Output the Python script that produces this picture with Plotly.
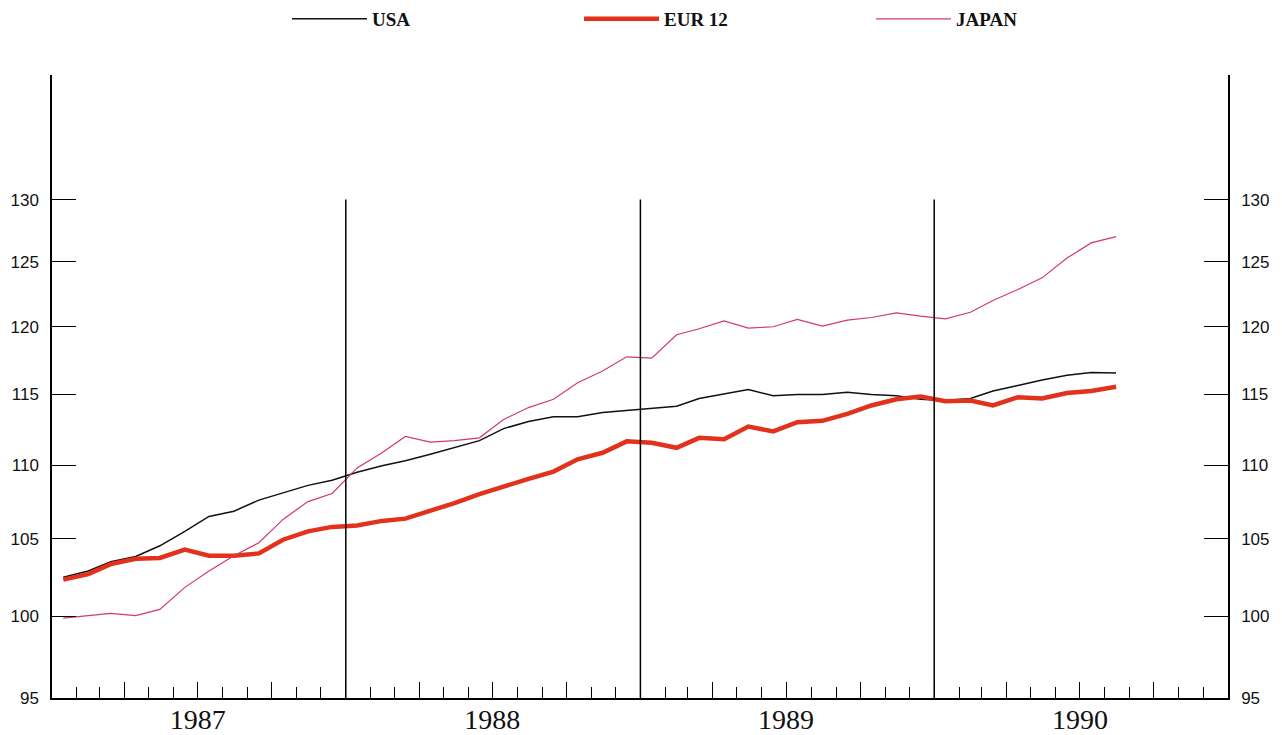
import pandas as pd
import numpy as np
import plotly.graph_objects as go

# Monthly index values, Jan 1987 - Aug 1990 (log scale chart)
months = pd.date_range("1987-01-01", periods=44, freq="MS") + pd.Timedelta(days=14)

usa = [102.5, 102.9, 103.5, 103.85, 104.55, 105.5, 106.5, 106.85, 107.6, 108.1, 108.6, 108.95,
       109.5, 109.95, 110.3, 110.75, 111.2, 111.7, 112.55, 113.05, 113.4, 113.4, 113.7, 113.85,
       114.0, 114.15, 114.7, 115.05, 115.35, 114.9, 115.0, 115.0, 115.15, 115.0, 114.9, 114.65,
       114.55, 114.7, 115.25, 115.65, 116.05, 116.4, 116.6, 116.55]

eur12 = [102.35, 102.7, 103.35, 103.7, 103.75, 104.3, 103.9, 103.9, 104.05, 104.95, 105.5, 105.8,
         105.9, 106.2, 106.35, 106.85, 107.4, 108.0, 108.55, 109.05, 109.55, 110.4, 110.85, 111.65,
         111.55, 111.2, 111.9, 111.8, 112.7, 112.35, 113.0, 113.1, 113.6, 114.2, 114.65, 114.85,
         114.5, 114.55, 114.2, 114.8, 114.7, 115.1, 115.25, 115.55]

japan = [99.9, 100.05, 100.2, 100.05, 100.45, 101.85, 102.9, 103.9, 104.75, 106.3, 107.5, 108.05,
         109.8, 110.85, 112.0, 111.6, 111.7, 111.9, 113.2, 114.05, 114.65, 115.85, 116.7, 117.75,
         117.65, 119.4, 119.85, 120.45, 119.9, 120.0, 120.55, 120.05, 120.5, 120.7, 121.05, 120.8,
         120.6, 121.1, 122.0, 122.85, 123.75, 125.3, 126.5, 127.0]

series_names = ["USA", "EUR 12", "JAPAN"]
series_colors = ["#111111", "#e2321c", "#d2386e"]
series_widths = [1.5, 4.5, 1.2]

y_ticks = [95, 100, 105, 110, 115, 120, 125, 130]
year_labels = ["1987", "1988", "1989", "1990"]
year_mid = ["1987-07-01", "1988-07-01", "1989-07-01", "1990-07-01"]
year_bounds = ["1988-01-01", "1989-01-01", "1990-01-01"]
x_range = ["1987-01-01", "1991-01-01"]
y_top = 140.6

fig = go.Figure()
for name, vals, col, w in zip(series_names, [usa, eur12, japan], series_colors, series_widths):
    fig.add_trace(go.Scatter(x=months, y=vals, mode="lines", name=name,
                             line=dict(color=col, width=w)))

# invisible helper trace so the overlay axes are drawn
fig.add_trace(go.Scatter(x=[x_range[0]], y=[y_ticks[0]], xaxis="x2", yaxis="y2",
                         mode="markers", marker=dict(opacity=0), showlegend=False,
                         hoverinfo="skip"))

# vertical year separators from 95 to 130
for xb in year_bounds:
    fig.add_shape(type="line", xref="x", yref="y", x0=xb, x1=xb,
                  y0=y_ticks[0], y1=y_ticks[-1], line=dict(color="black", width=1.5))

yr = [np.log10(y_ticks[0]), np.log10(y_top)]
tickfont = dict(family="Liberation Sans", size=17, color="#111")

# page body adds an 8px offset; margins compensate for it
ML, MR, MT, MB = 44, 62, 67, 45
PW, PH = 1282 - ML - MR, 735 - MT - MB

fig.update_layout(
    width=1282, height=735,
    margin=dict(l=ML, r=MR, t=MT, b=MB, autoexpand=False),
    paper_bgcolor="white", plot_bgcolor="white",
    showlegend=True,
    legend=dict(orientation="h", x=(279 - ML) / PW, xanchor="left",
                y=1 + (MT + 8) / PH, yanchor="top",
                entrywidth=202, entrywidthmode="pixels", itemwidth=75,
                font=dict(family="Liberation Serif", size=19, color="#111", weight="bold"),
                bgcolor="rgba(0,0,0,0)"),
    xaxis=dict(type="date", range=x_range, showgrid=False, zeroline=False,
               showline=True, linecolor="black", linewidth=1.5,
               tickmode="linear", tick0="1987-01-01", dtick="M3",
               ticks="inside", ticklen=16, tickwidth=1.3, tickcolor="black",
               showticklabels=False,
               minor=dict(tickmode="linear", tick0="1987-01-01", dtick="M1",
                          ticks="inside", ticklen=11, tickwidth=1.3, tickcolor="black",
                          showgrid=False)),
    xaxis2=dict(type="date", range=x_range, overlaying="x", side="bottom", anchor="y",
                showgrid=False, zeroline=False, showline=False,
                tickmode="array", tickvals=year_mid, ticktext=year_labels, ticks="",
                ticklabelstandoff=2,
                tickfont=dict(family="Liberation Serif", size=28, color="#111")),
    yaxis=dict(type="log", range=yr, showgrid=False, zeroline=False,
               showline=True, linecolor="black", linewidth=1.5,
               tickmode="array", tickvals=y_ticks, ticktext=[str(v) for v in y_ticks],
               ticks="inside", ticklen=24, tickwidth=1.3, tickcolor="black",
               ticklabelstandoff=8, tickfont=tickfont),
    yaxis2=dict(type="log", range=yr, overlaying="y", side="right", anchor="x",
                showgrid=False, zeroline=False,
                showline=True, linecolor="black", linewidth=1.5,
                tickmode="array", tickvals=y_ticks, ticktext=[str(v) for v in y_ticks],
                ticks="inside", ticklen=24, tickwidth=1.3, tickcolor="black",
                ticklabelstandoff=8, tickfont=tickfont),
)

fig.write_html("out.html")
